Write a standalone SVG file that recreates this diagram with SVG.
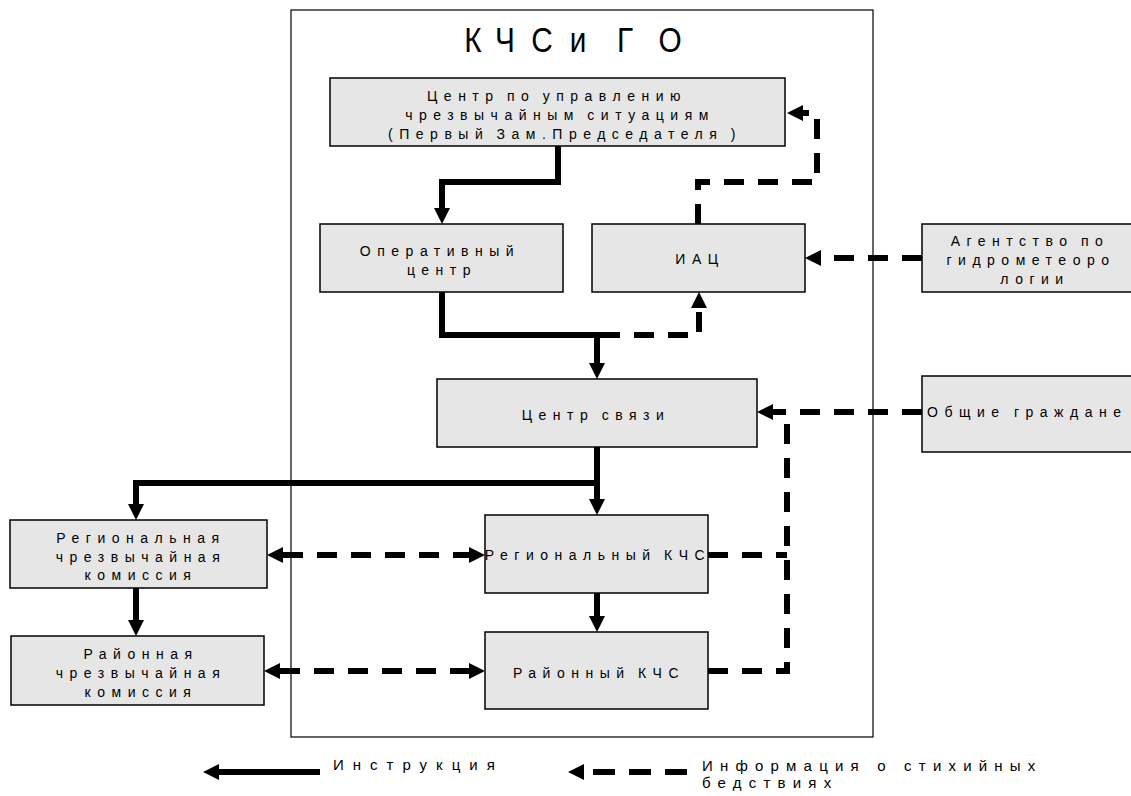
<svg xmlns="http://www.w3.org/2000/svg" width="1131" height="796" viewBox="0 0 1131 796">
<style>
.box{fill:#e6e6e6;stroke:#000;stroke-width:1.5}
.frame{fill:none;stroke:#000;stroke-width:1.2}
.t{font-family:"Liberation Sans",Arial,sans-serif;font-size:14px;letter-spacing:6.5px;word-spacing:-3px;text-anchor:middle;fill:#000}
.ts{font-family:"Liberation Sans",Arial,sans-serif;font-size:15px;fill:#000}
.title{font-family:"Liberation Sans",Arial,sans-serif;font-size:35px;text-anchor:middle;fill:#000}
.solid{fill:none;stroke:#000;stroke-width:6;stroke-linejoin:miter}
.dash{fill:none;stroke:#000;stroke-width:6;stroke-dasharray:20 14}
</style>
<defs>
<marker id="ah" markerUnits="userSpaceOnUse" markerWidth="16" markerHeight="16" viewBox="0 -8 16 16" refX="0" refY="0" orient="auto" overflow="visible">
<path d="M0,-8 L16,0 L0,8 z" fill="#000"/>
</marker>
<marker id="ahs" markerUnits="userSpaceOnUse" markerWidth="16" markerHeight="16" viewBox="0 -8 16 16" refX="0" refY="0" orient="auto-start-reverse" overflow="visible">
<path d="M0,-8 L16,0 L0,8 z" fill="#000"/>
</marker>
</defs>
<rect width="1131" height="796" fill="#fff"/>
<g id="frame">
<rect class="frame" x="291" y="10" width="582" height="727"/>
<text class="title" transform="scale(0.85,1)" x="556.5 594.1 637.6 658.8 680 705.9 735.3 788.2" y="52">КЧС и ГО</text>
</g>
<g id="connectors">
<path class="solid" d="M558,146 V182 H442 V208" marker-end="url(#ah)"/>
<path class="solid" d="M442,292 V335 H597 V363" marker-end="url(#ah)"/>
<path class="solid" d="M597,447 V483 H136 V504" marker-end="url(#ah)"/>
<path class="solid" d="M597,483 V499" marker-end="url(#ah)"/>
<path class="solid" d="M597,593 V616" marker-end="url(#ah)"/>
<path class="solid" d="M136,588 V620" marker-end="url(#ah)"/>
<path class="dash" d="M698,224 V182 H817 V113 H803" marker-end="url(#ah)"/>
<path class="dash" d="M600,335 H699 V308" marker-end="url(#ah)"/>
<path class="dash" d="M922,258 H821" marker-end="url(#ah)"/>
<path class="dash" d="M922,412 H773" marker-end="url(#ah)"/>
<path class="dash" d="M708,671 H787 V412"/>
<path class="dash" d="M708,555 H787"/>
<path class="dash" d="M283,555 H469" marker-start="url(#ahs)" marker-end="url(#ah)"/>
<path class="dash" d="M280,671 H469" marker-start="url(#ahs)" marker-end="url(#ah)"/>
</g>
<g id="n_center">
<rect class="box" x="330" y="78" width="455" height="68"/>
<text class="t" x="557" y="101">Центр по управлению</text>
<text class="t" x="560" y="120">чрезвычайным ситуациям</text>
<text class="t" x="565" y="139">(Первый Зам.Председателя )</text>
</g>
<g id="n_oper">
<rect class="box" x="320" y="224" width="243" height="68"/>
<text class="t" x="440" y="256">Оперативный</text>
<text class="t" x="442" y="275">центр</text>
</g>
<g id="n_iac">
<rect class="box" x="592" y="224" width="213" height="68"/>
<text class="t" x="700" y="264">ИАЦ</text>
</g>
<g id="n_svyaz">
<rect class="box" x="437" y="379" width="320" height="68"/>
<text class="t" x="596" y="420">Центр связи</text>
</g>
<g id="n_agency">
<rect class="box" x="922" y="224" width="215" height="68"/>
<text class="t" x="1030" y="246">Агентство по</text>
<text class="t" x="1031" y="265">гидрометеоро</text>
<text class="t" x="1035" y="284">логии</text>
</g>
<g id="n_citizens">
<rect class="box" x="922" y="376" width="215" height="76"/>
<text class="t" x="927" y="417" style="text-anchor:start;word-spacing:-2px">Общие граждане</text>
</g>
<g id="n_reg_com">
<rect class="box" x="10" y="520" width="257" height="68"/>
<text class="t" x="141" y="543">Региональная</text>
<text class="t" x="141" y="562">чрезвычайная</text>
<text class="t" x="141" y="580">комиссия</text>
</g>
<g id="n_dist_com">
<rect class="box" x="11" y="636" width="253" height="69"/>
<text class="t" x="141" y="659">Районная</text>
<text class="t" x="141" y="678">чрезвычайная</text>
<text class="t" x="141" y="697">комиссия</text>
</g>
<g id="n_reg_kchs">
<rect class="box" x="485" y="515" width="223" height="78"/>
<text class="t" x="598" y="560">Региональный КЧС</text>
</g>
<g id="n_dist_kchs">
<rect class="box" x="485" y="632" width="223" height="77"/>
<text class="t" x="599" y="678">Районный КЧС</text>
</g>
<g id="legend">
<path class="solid" d="M320,772 H219" marker-end="url(#ah)"/>
<text class="ts" x="333" y="770" style="letter-spacing:9px">Инструкция</text>
<path class="dash" d="M687,772 H584" style="stroke-dasharray:22 14" marker-end="url(#ah)"/>
<text class="ts" x="702" y="771" style="letter-spacing:7.2px">Информация о стихийных</text>
<text class="ts" x="702" y="788" style="letter-spacing:7.2px">бедствиях</text>
</g>
</svg>
